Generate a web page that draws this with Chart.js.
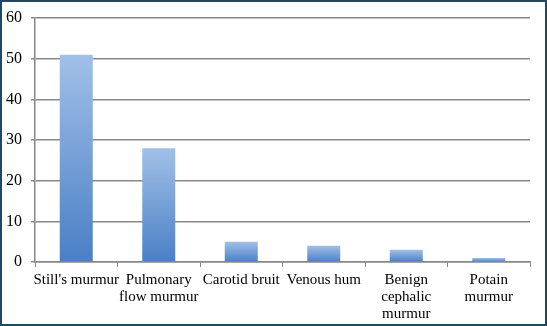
<!DOCTYPE html>
<html>
<head>
<meta charset="utf-8">
<script src="https://cdn.jsdelivr.net/npm/chart.js@4"></script>
<style>
  html, body { margin: 0; padding: 0; background: #fff; }
  #wrap {
    width: 547px; height: 326px; box-sizing: border-box;
    border: 2px solid #1f4862; background: #fff;
  }
</style>
</head>
<body>
<div id="wrap"><canvas id="murmurChart" width="543" height="322"></canvas></div>
<script>
// data
const categories = [
  "Still's murmur",
  ['Pulmonary', 'flow murmur'],
  'Carotid bruit',
  'Venous hum',
  ['Benign', 'cephalic', 'murmur'],
  ['Potain', 'murmur']
];
const counts = [51, 28, 5, 4, 3, 1];
const yTicks = [0, 10, 20, 30, 40, 50, 60];

const serif = "'Liberation Serif', 'Times New Roman', serif";
Chart.defaults.font.family = serif;

const barFill = (ctx) => {
  const chart = ctx.chart;
  if (!chart.chartArea || ctx.raw === undefined) return '#6f9bd6';
  const y = chart.scales.y;
  const top = y.getPixelForValue(ctx.raw);
  const bottom = y.getPixelForValue(0);
  const g = chart.ctx.createLinearGradient(0, top, 0, bottom);
  g.addColorStop(0, '#a1c0e8');
  g.addColorStop(1, '#4a7fc6');
  return g;
};

new Chart(document.getElementById('murmurChart'), {
  type: 'bar',
  data: {
    labels: categories,
    datasets: [{
      data: counts,
      backgroundColor: barFill,
      borderWidth: 0,
      categoryPercentage: 0.8,
      barPercentage: 0.5
    }]
  },
  options: {
    responsive: false,
    animation: false,
    layout: { padding: { top: 0, right: 15, left: 0, bottom: 0 } },
    plugins: { legend: { display: false }, tooltip: { enabled: false } },
    scales: {
      x: {
        grid: {
          offset: true,
          drawOnChartArea: false,
          drawTicks: true,
          tickLength: 5,
          color: '#888'
        },
        border: { color: '#888', width: 1.5 },
        ticks: {
          color: '#000',
          font: { family: serif, size: 15, lineHeight: 1.15 },
          maxRotation: 0,
          autoSkip: false,
          padding: 4
        },
        afterFit: (scale) => { scale.height = 62; }
      },
      y: {
        min: 0,
        max: 60,
        afterBuildTicks: (scale) => { scale.ticks = yTicks.map(v => ({ value: v })); },
        grid: { color: '#888', lineWidth: 1.5, tickLength: 4 },
        border: { color: '#888', width: 1.5 },
        ticks: {
          color: '#000',
          font: { family: serif, size: 16, lineHeight: 0.9 },
          padding: 9
        },
        afterFit: (scale) => { scale.width = 33; }
      }
    }
  }
});
</script>
</body>
</html>
